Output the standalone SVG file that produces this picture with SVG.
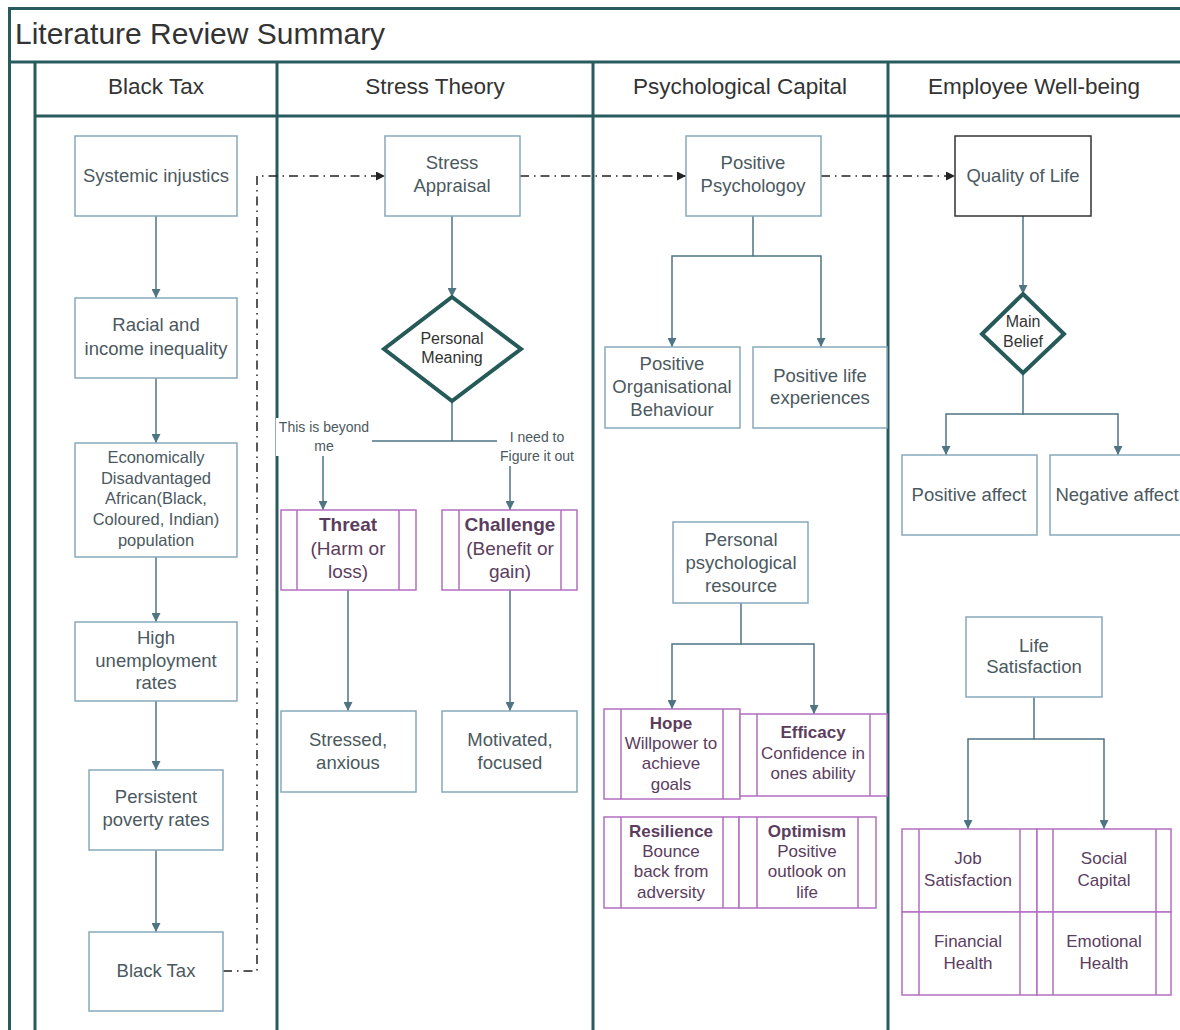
<svg xmlns="http://www.w3.org/2000/svg" width="1180" height="1030" viewBox="0 0 1180 1030">
<style>
.lane{stroke:#285b5d;stroke-width:3;fill:none}
.box{fill:#fff;stroke:#86a9ba;stroke-width:1.5}
.qbox{fill:#fff;stroke:#333;stroke-width:1.5}
.pbox{fill:#fff;stroke:#b36fc0;stroke-width:1.5}
.pl{stroke:#b36fc0;stroke-width:1.5}
.dia{fill:#fff;stroke:#255a58;stroke-width:4;stroke-linejoin:miter}
.t{font-family:"Liberation Sans",Arial,sans-serif;font-size:18.5px;fill:#4b5960;text-anchor:middle;dominant-baseline:central}
.h{font-family:"Liberation Sans",Arial,sans-serif;font-size:22.5px;fill:#333;text-anchor:middle;dominant-baseline:central}
.s{font-size:16.5px}
.d{font-size:16px;fill:#333}
.l{font-size:14px}
.p{font-size:17px;fill:#5b3d5e}
.pb{font-size:19px;fill:#5b3d5e}
.b{font-weight:bold}
.conn{stroke:#4f7484;stroke-width:1.5;fill:none;marker-end:url(#ah)}
.nm{stroke:#4f7484;stroke-width:1.5;fill:none}
.dd{stroke:#222;stroke-width:1.5;fill:none;stroke-dasharray:9 5 1.5 5;marker-end:url(#ahk)}
</style>
<defs>
<marker id="ah" viewBox="0 0 10 10" markerUnits="userSpaceOnUse" markerWidth="9" markerHeight="9" refX="10" refY="5" orient="auto"><path d="M0,0 L10,5 L0,10 z" fill="#4f7484"/></marker>
<marker id="ahk" viewBox="0 0 10 10" markerUnits="userSpaceOnUse" markerWidth="9" markerHeight="9" refX="10" refY="5" orient="auto"><path d="M0,0 L10,5 L0,10 z" fill="#222"/></marker>
</defs>
<rect width="1180" height="1030" fill="#fff"/>
<g id="pool">
<path class="lane" d="M1185 8.5 H9.5 V1035 M9.5 62 H1185 M35 62 V1035 M35 116 H1185 M277 62 V1035 M593 62 V1035 M888 62 V1035"/>
<text x="15" y="33" style="font-family:'Liberation Sans',Arial,sans-serif;font-size:30px;fill:#333;dominant-baseline:central">Literature Review Summary</text>
<text class="h" x="156" y="86">Black Tax</text>
<text class="h" x="435" y="86">Stress Theory</text>
<text class="h" x="740" y="86">Psychological Capital</text>
<text class="h" x="1034" y="86">Employee Well-being</text>
</g>
<g id="connectors">
<path class="conn" d="M156 216 V298"/>
<path class="conn" d="M156 378 V443"/>
<path class="conn" d="M156 557 V622"/>
<path class="conn" d="M156 701 V770"/>
<path class="conn" d="M156 850 V932"/>
<path class="dd" d="M223 971 H257 V176 H385"/>
<path class="dd" d="M520 176 H686"/>
<path class="dd" d="M821 176 H955"/>
<path class="conn" d="M452 216 V297"/>
<path class="conn" d="M452 401 V441 H323 V510"/>
<path class="conn" d="M452 441 H510 V510"/>
<path class="conn" d="M348 590 V711"/>
<path class="conn" d="M510 590 V711"/>
<path class="conn" d="M753 216 V256 H672 V347"/>
<path class="conn" d="M753 256 H821 V347"/>
<path class="conn" d="M741 603 V644 H672 V709"/>
<path class="conn" d="M741 644 H814 V714"/>
<path class="conn" d="M1023 216 V294"/>
<path class="conn" d="M1023 373 V414 H946 V455"/>
<path class="conn" d="M1023 414 H1118 V455"/>
<path class="conn" d="M1034 697 V739 H968 V829"/>
<path class="conn" d="M1034 739 H1104 V829"/>
<rect x="276" y="418" width="96" height="38" fill="#fff"/>
<text class="t l" x="324" y="427">This is beyond</text>
<text class="t l" x="324" y="446">me</text>
<rect x="497" y="427" width="82" height="39" fill="#fff"/>
<text class="t l" x="537" y="437">I need to</text>
<text class="t l" x="537" y="456">Figure it out</text>
</g>
<g id="n-systemic"><rect class="box" x="75" y="136" width="162" height="80"/><text class="t" x="156" y="175">Systemic injustics</text></g>
<g id="n-racial"><rect class="box" x="75" y="298" width="162" height="80"/><text class="t" x="156" y="324">Racial and</text><text class="t" x="156" y="348">income inequality</text></g>
<g id="n-econ"><rect class="box" x="75" y="443" width="162" height="114"/><text class="t s" x="156" y="457">Economically</text><text class="t s" x="156" y="478">Disadvantaged</text><text class="t s" x="156" y="498">African(Black,</text><text class="t s" x="156" y="519">Coloured, Indian)</text><text class="t s" x="156" y="540">population</text></g>
<g id="n-unemp"><rect class="box" x="75" y="622" width="162" height="79"/><text class="t" x="156" y="637">High</text><text class="t" x="156" y="660">unemployment</text><text class="t" x="156" y="682">rates</text></g>
<g id="n-poverty"><rect class="box" x="89" y="770" width="134" height="80"/><text class="t" x="156" y="796">Persistent</text><text class="t" x="156" y="819">poverty rates</text></g>
<g id="n-blacktax"><rect class="box" x="89" y="932" width="134" height="79"/><text class="t" x="156" y="970">Black Tax</text></g>
<g id="n-appraisal"><rect class="box" x="385" y="136" width="135" height="80"/><text class="t" x="452" y="162">Stress</text><text class="t" x="452" y="185">Appraisal</text></g>
<g id="n-meaning"><polygon class="dia" points="452,297 521,349 452,401 384,349"/><text class="t d" x="452" y="338">Personal</text><text class="t d" x="452" y="357">Meaning</text></g>
<g id="n-threat"><rect class="pbox" x="281" y="510" width="135" height="80"/><path class="pl" d="M297 510 V590 M399 510 V590"/><text class="t pb b" x="348" y="524">Threat</text><text class="t pb" x="348" y="548">(Harm or</text><text class="t pb" x="348" y="571">loss)</text></g>
<g id="n-challenge"><rect class="pbox" x="442" y="510" width="135" height="80"/><path class="pl" d="M459 510 V590 M561 510 V590"/><text class="t pb b" x="510" y="524">Challenge</text><text class="t pb" x="510" y="548">(Benefit or</text><text class="t pb" x="510" y="571">gain)</text></g>
<g id="n-stressed"><rect class="box" x="281" y="711" width="135" height="81"/><text class="t" x="348" y="739">Stressed,</text><text class="t" x="348" y="762">anxious</text></g>
<g id="n-motivated"><rect class="box" x="442" y="711" width="135" height="81"/><text class="t" x="510" y="739">Motivated,</text><text class="t" x="510" y="762">focused</text></g>
<g id="n-pospsy"><rect class="box" x="686" y="136" width="135" height="80"/><text class="t" x="753" y="162">Positive</text><text class="t" x="753" y="185">Psychologoy</text></g>
<g id="n-pob"><rect class="box" x="605" y="347" width="135" height="81"/><text class="t" x="672" y="363">Positive</text><text class="t" x="672" y="386">Organisational</text><text class="t" x="672" y="409">Behaviour</text></g>
<g id="n-ple"><rect class="box" x="753" y="347" width="134" height="81"/><text class="t" x="820" y="375">Positive life</text><text class="t" x="820" y="397">experiences</text></g>
<g id="n-ppr"><rect class="box" x="673" y="522" width="135" height="81"/><text class="t" x="741" y="539">Personal</text><text class="t" x="741" y="562">psychological</text><text class="t" x="741" y="585">resource</text></g>
<g id="n-hope"><rect class="pbox" x="604" y="709" width="136" height="90"/><path class="pl" d="M621 709 V799 M723 709 V799"/><text class="t p b" x="671" y="723">Hope</text><text class="t p" x="671" y="743">Willpower to</text><text class="t p" x="671" y="763">achieve</text><text class="t p" x="671" y="784">goals</text></g>
<g id="n-efficacy"><rect class="pbox" x="740" y="714" width="147" height="82"/><path class="pl" d="M757 714 V796 M870 714 V796"/><text class="t p b" x="813" y="732">Efficacy</text><text class="t p" x="813" y="753">Confidence in</text><text class="t p" x="813" y="773">ones ability</text></g>
<g id="n-resilience"><rect class="pbox" x="604" y="817" width="135" height="91"/><path class="pl" d="M621 817 V908 M723 817 V908"/><text class="t p b" x="671" y="831">Resilience</text><text class="t p" x="671" y="851">Bounce</text><text class="t p" x="671" y="871">back from</text><text class="t p" x="671" y="892">adversity</text></g>
<g id="n-optimism"><rect class="pbox" x="739" y="817" width="137" height="91"/><path class="pl" d="M757 817 V908 M858 817 V908"/><text class="t p b" x="807" y="831">Optimism</text><text class="t p" x="807" y="851">Positive</text><text class="t p" x="807" y="871">outlook on</text><text class="t p" x="807" y="892">life</text></g>
<g id="n-qol"><rect class="qbox" x="955" y="136" width="136" height="80"/><text class="t" x="1023" y="175">Quality of Life</text></g>
<g id="n-belief"><polygon class="dia" points="1023,294 1064,334 1023,373 982,334"/><text class="t d" x="1023" y="321">Main</text><text class="t d" x="1023" y="341">Belief</text></g>
<g id="n-posaff"><rect class="box" x="902" y="455" width="135" height="80"/><text class="t" x="969" y="494">Positive affect</text></g>
<g id="n-negaff"><rect class="box" x="1050" y="455" width="140" height="80"/><text class="t" x="1117" y="494">Negative affect</text></g>
<g id="n-lifesat"><rect class="box" x="966" y="617" width="136" height="80"/><text class="t" x="1034" y="645">Life</text><text class="t" x="1034" y="666">Satisfaction</text></g>
<g id="n-job"><rect class="pbox" x="902" y="829" width="135" height="83"/><path class="pl" d="M919 829 V912 M1020 829 V912"/><text class="t p" x="968" y="858">Job</text><text class="t p" x="968" y="880">Satisfaction</text></g>
<g id="n-social"><rect class="pbox" x="1037" y="829" width="134" height="83"/><path class="pl" d="M1053 829 V912 M1156 829 V912"/><text class="t p" x="1104" y="858">Social</text><text class="t p" x="1104" y="880">Capital</text></g>
<g id="n-financial"><rect class="pbox" x="902" y="912" width="135" height="83"/><path class="pl" d="M919 912 V995 M1020 912 V995"/><text class="t p" x="968" y="941">Financial</text><text class="t p" x="968" y="963">Health</text></g>
<g id="n-emotional"><rect class="pbox" x="1037" y="912" width="134" height="83"/><path class="pl" d="M1053 912 V995 M1156 912 V995"/><text class="t p" x="1104" y="941">Emotional</text><text class="t p" x="1104" y="963">Health</text></g>
</svg>
